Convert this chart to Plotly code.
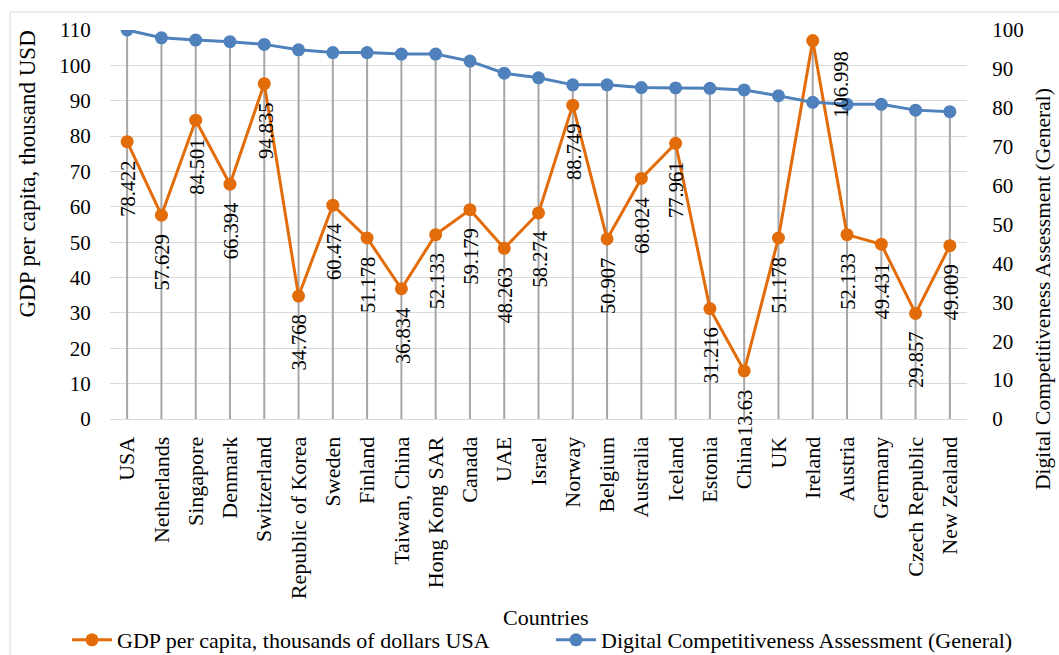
import plotly.graph_objects as go

countries = ["USA", "Netherlands", "Singapore", "Denmark", "Switzerland", "Republic of Korea",
             "Sweden", "Finland", "Taiwan, China", "Hong Kong SAR", "Canada", "UAE", "Israel",
             "Norway", "Belgium", "Australia", "Iceland", "Estonia", "China", "UK", "Ireland",
             "Austria", "Germany", "Czech Republic", "New Zealand"]

gdp = [78.422, 57.629, 84.501, 66.394, 94.835, 34.768, 60.474, 51.178, 36.834, 52.133,
       59.179, 48.263, 58.274, 88.749, 50.907, 68.024, 77.961, 31.216, 13.63, 51.178,
       106.998, 52.133, 49.431, 29.857, 49.009]

dca = [100.0, 98.0, 97.4, 97.0, 96.3, 94.9, 94.2, 94.2, 93.8, 93.8, 92.0, 88.9, 87.7,
       85.9, 85.9, 85.2, 85.1, 85.0, 84.6, 83.1, 81.4, 80.9, 80.9, 79.4, 79.0]

left_ticks = list(range(0, 111, 10))
right_ticks = list(range(0, 101, 10))

LEFT_MAX = 110
RIGHT_MAX = 100
FONT = "Liberation Serif, Times New Roman, serif"
ORANGE = "#E36C0A"
BLUE = "#4F81BD"
GREY = "#A6A6A6"

# Drop lines from axis up to the highest point of each category (in left-axis units)
scale = LEFT_MAX / RIGHT_MAX
dx, dy = [], []
for c, g, d in zip(countries, gdp, dca):
    dx += [c, c, None]
    dy += [0, max(g, d * scale), None]

fig = go.Figure()
fig.add_trace(go.Scatter(x=dx, y=dy, mode="lines", line=dict(color=GREY, width=2),
                         showlegend=False, hoverinfo="skip"))
fig.add_trace(go.Scatter(x=countries, y=gdp, mode="lines+markers",
                         name="GDP per capita, thousands of dollars USA", legend="legend",
                         line=dict(color=ORANGE, width=3), marker=dict(color=ORANGE, size=13)))
fig.add_trace(go.Scatter(x=countries, y=dca, mode="lines+markers", yaxis="y2",
                         name="Digital Competitiveness Assessment (General)", legend="legend2",
                         line=dict(color=BLUE, width=3), marker=dict(color=BLUE, size=13)))

imax = gdp.index(max(gdp))
for i, (c, g) in enumerate(zip(countries, gdp)):
    if i == imax:
        fig.add_annotation(x=c, y=g, text=f"{g:g}", textangle=-90, showarrow=False,
                           xanchor="center", yanchor="top", xshift=28, yshift=-8,
                           font=dict(family=FONT, size=20.5, color="black"))
    else:
        fig.add_annotation(x=c, y=g, text=f"{g:g}", textangle=-90, showarrow=False,
                           xanchor="center", yanchor="top", xshift=1, yshift=-17,
                           font=dict(family=FONT, size=20.5, color="black"))

L, R, T, B = 110, 92, 30, 236
W, H = 1059, 655
pw, ph = W - L - R, H - T - B

def px(x):
    return (x - L) / pw

def py(y):
    return (H - B - y) / ph

fig.add_annotation(text="Countries", x=px(546), y=py(617), xref="paper", yref="paper",
                   showarrow=False, xanchor="center", yanchor="middle",
                   font=dict(family=FONT, size=22, color="black"))
fig.add_annotation(text="GDP per capita, thousand USD", x=px(27), y=py(29), xref="paper",
                   yref="paper", showarrow=False, textangle=-90, xanchor="center",
                   yanchor="top", font=dict(family=FONT, size=23, color="black"))
fig.add_annotation(text="Digital Competitiveness Assessment (General)", x=px(1043), y=py(86),
                   xref="paper", yref="paper", showarrow=False, textangle=-90,
                   xanchor="center", yanchor="top",
                   font=dict(family=FONT, size=21.5, color="black"))

fig.add_shape(type="rect", xref="paper", yref="paper", x0=px(10), x1=px(1070),
              y0=py(670), y1=py(12), line=dict(color="#D9D9D9", width=1), layer="below")

legend_common = dict(orientation="h", xref="container", yref="container",
                     xanchor="left", yanchor="middle", itemwidth=40,
                     font=dict(family=FONT, size=22, color="black"),
                     bgcolor="rgba(0,0,0,0)")

fig.update_layout(
    width=W, height=H,
    margin=dict(l=L, r=R, t=T, b=B, autoexpand=False),
    paper_bgcolor="white", plot_bgcolor="white",
    font=dict(family=FONT, size=20, color="black"),
    showlegend=True,
    legend=dict(x=67 / W, y=1 - 640 / H, **legend_common),
    legend2=dict(x=551 / W, y=1 - 640 / H, **legend_common),
    xaxis=dict(type="category", range=[-0.5, len(countries) - 0.5], tickangle=-90,
               showgrid=False, showline=True,
               linecolor="#D9D9D9", linewidth=1, ticks="outside", ticklen=8,
               tickcolor="rgba(0,0,0,0)", zeroline=False, automargin=False,
               tickfont=dict(family=FONT, size=22, color="black")),
    yaxis=dict(range=[0, LEFT_MAX], tickvals=left_ticks, showgrid=True, gridcolor="#D9D9D9",
               gridwidth=1, zeroline=False, showline=False, ticks="outside", ticklen=14,
               tickcolor="rgba(0,0,0,0)", automargin=False,
               tickfont=dict(family=FONT, size=21, color="black")),
    yaxis2=dict(range=[0, RIGHT_MAX], tickvals=right_ticks, overlaying="y", side="right",
                showgrid=False, zeroline=False, showline=False, ticks="outside", ticklen=20,
                tickcolor="rgba(0,0,0,0)", automargin=False,
                tickfont=dict(family=FONT, size=21, color="black")),
)

fig.write_html("out.html")
